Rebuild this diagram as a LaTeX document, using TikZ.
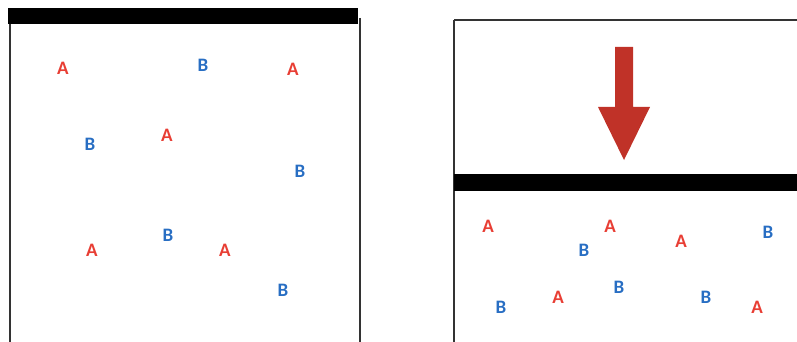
\documentclass[tikz,border=0pt]{standalone}
\usepackage{fontspec}
\setmainfont{Carlito}
\begin{document}
\begin{tikzpicture}[x=1pt,y=-1pt,
  letA/.style={text=colA,font=\fontsize{19}{19}\selectfont\bfseries,inner sep=0pt},
  letB/.style={text=colB,font=\fontsize{19}{19}\selectfont\bfseries,inner sep=0pt},
  frame/.style={draw=black!80,line width=1.5pt},
  bar/.style={fill=black}]
\definecolor{colA}{RGB}{232,62,52}
\definecolor{colB}{RGB}{40,110,195}
\definecolor{arrowred}{RGB}{192,50,40}
\useasboundingbox (0,0) rectangle (797,342);
% left container
\draw[frame] (10,18) -- (10,350);
\draw[frame] (360,18) -- (360,350);
\fill[bar] (8,8) rectangle (358,24);
% right container
\draw[frame] (454,20) -- (454,350);
\draw[frame] (454,20) -- (805,20);
\fill[bar] (454,174) rectangle (805,191);
% arrow
\fill[arrowred] (615,47) -- (633,47) -- (633,107) -- (650,107) -- (624,160) -- (598,107) -- (615,107) -- cycle;
% left letters
\node[letA] (l1) at (63,68) {A};
\node[letB] (l2) at (203,65) {B};
\node[letA] (l3) at (293,69) {A};
\node[letB] (l4) at (90,144) {B};
\node[letA] (l5) at (167,135) {A};
\node[letB] (l6) at (300,171) {B};
\node[letA] (l7) at (92,250) {A};
\node[letB] (l8) at (168,235) {B};
\node[letA] (l9) at (225,250) {A};
\node[letB] (l10) at (283,290) {B};
% right letters
\node[letA] (r1) at (488,226) {A};
\node[letA] (r2) at (610,226) {A};
\node[letB] (r3) at (584,250) {B};
\node[letA] (r4) at (681,241) {A};
\node[letB] (r5) at (768,232) {B};
\node[letB] (r6) at (501,307) {B};
\node[letA] (r7) at (558,297) {A};
\node[letB] (r8) at (619,287) {B};
\node[letB] (r9) at (706,297) {B};
\node[letA] (r10) at (757,307) {A};
\end{tikzpicture}
\end{document}
